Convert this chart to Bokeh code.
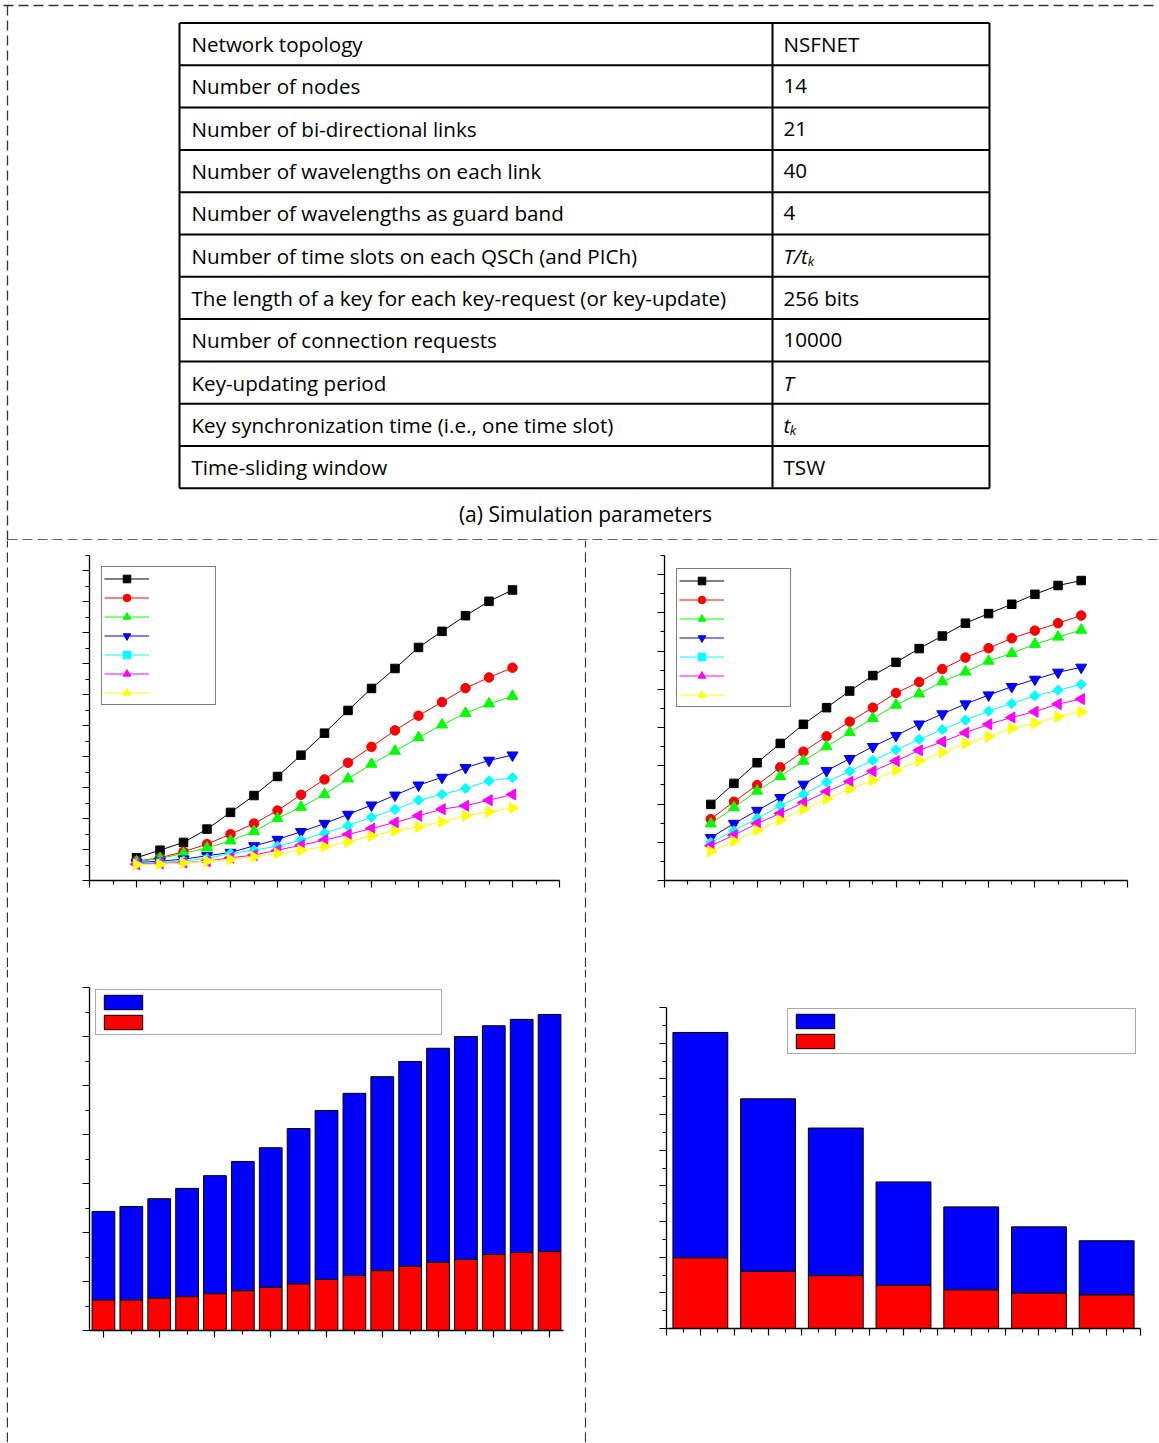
import numpy as np
from bokeh.plotting import figure
from bokeh.layouts import column, row
from bokeh.models import Range1d, FixedTicker, Legend, LegendItem
from bokeh.core.properties import value
from bokeh.embed import file_html
from bokeh.resources import INLINE

# ---------------- data ----------------
param_names = [
    "Network topology",
    "Number of nodes",
    "Number of bi-directional links",
    "Number of wavelengths on each link",
    "Number of wavelengths as guard band",
    "Number of time slots on each QSCh (and PICh)",
    "The length of a key for each key-request (or key-update)",
    "Number of connection requests",
    "Key-updating period",
    "Key synchronization time (i.e., one time slot)",
    "Time-sliding window",
]
param_values = ["NSFNET", "14", "21", "40", "4", "T/t", "256 bits", "10000", "T", "t", "TSW"]
param_value_sub = ["", "", "", "", "", "k", "", "", "", "k", ""]
param_value_italic = [False, False, False, False, False, True, False, False, True, True, False]
table_caption = "(a) Simulation parameters"

# line charts (17 points each)
line_x = [2, 3, 4, 5, 6, 7, 8, 9, 10, 11, 12, 13, 14, 15, 16, 17, 18]

b_black = [1.47, 1.96, 2.46, 3.32, 4.40, 5.49, 6.72, 8.10, 9.52, 10.99, 12.41, 13.70, 15.06, 16.10, 17.11, 18.04, 18.77]
b_red = [1.25, 1.47, 1.86, 2.35, 2.99, 3.68, 4.52, 5.54, 6.53, 7.61, 8.64, 9.70, 10.65, 11.53, 12.43, 13.12, 13.75]
b_green = [1.21, 1.42, 1.75, 2.11, 2.57, 3.17, 4.01, 4.74, 5.56, 6.57, 7.52, 8.36, 9.24, 10.06, 10.81, 11.42, 11.91]
b_blue = [1.16, 1.25, 1.38, 1.60, 1.81, 2.24, 2.65, 3.15, 3.68, 4.27, 4.87, 5.51, 6.16, 6.66, 7.29, 7.76, 8.10]
b_cyan = [1.10, 1.16, 1.27, 1.42, 1.75, 1.96, 2.22, 2.61, 3.06, 3.54, 4.09, 4.59, 5.19, 5.56, 5.95, 6.44, 6.64]
b_magenta = [1.05, 1.10, 1.16, 1.25, 1.47, 1.64, 1.96, 2.28, 2.61, 2.97, 3.36, 3.75, 4.18, 4.61, 4.83, 5.19, 5.56]
b_yellow = [1.03, 1.05, 1.14, 1.25, 1.36, 1.53, 1.75, 1.96, 2.18, 2.50, 2.89, 3.21, 3.47, 3.79, 4.18, 4.44, 4.70]

c_black = [3.98, 5.08, 6.16, 7.17, 8.17, 9.04, 9.91, 10.72, 11.41, 12.13, 12.79, 13.46, 13.96, 14.45, 14.97, 15.43, 15.69]
c_red = [3.21, 4.12, 4.99, 5.92, 6.74, 7.54, 8.31, 9.04, 9.81, 10.38, 11.06, 11.66, 12.15, 12.67, 13.07, 13.46, 13.86]
c_green = [2.97, 3.82, 4.68, 5.45, 6.25, 7.00, 7.75, 8.48, 9.18, 9.77, 10.40, 10.91, 11.48, 11.88, 12.36, 12.74, 13.10]
c_blue = [2.24, 2.98, 3.66, 4.33, 5.03, 5.74, 6.37, 7.00, 7.58, 8.18, 8.71, 9.23, 9.70, 10.14, 10.52, 10.89, 11.15]
c_cyan = [1.99, 2.60, 3.25, 3.91, 4.50, 5.15, 5.72, 6.28, 6.84, 7.38, 7.89, 8.39, 8.86, 9.25, 9.67, 9.95, 10.26]
c_magenta = [1.82, 2.37, 2.98, 3.51, 4.07, 4.64, 5.17, 5.72, 6.25, 6.81, 7.26, 7.73, 8.17, 8.53, 8.83, 9.23, 9.49]
c_yellow = [1.53, 2.06, 2.63, 3.16, 3.73, 4.26, 4.78, 5.25, 5.77, 6.25, 6.70, 7.17, 7.52, 7.96, 8.22, 8.57, 8.83]

# bar chart (d): 17 stacked bars
d_x = [1, 2, 3, 4, 5, 6, 7, 8, 9, 10, 11, 12, 13, 14, 15, 16, 17]
d_total = [2.43, 2.53, 2.69, 2.90, 3.16, 3.45, 3.73, 4.12, 4.49, 4.84, 5.18, 5.49, 5.76, 6.00, 6.22, 6.35, 6.45]
d_red = [0.62, 0.62, 0.66, 0.69, 0.75, 0.81, 0.88, 0.95, 1.04, 1.12, 1.22, 1.31, 1.39, 1.45, 1.55, 1.59, 1.61]

# bar chart (e): 7 stacked bars
e_x = [1, 2, 3, 4, 5, 6, 7]
e_total = [8.30, 6.44, 5.62, 4.11, 3.41, 2.85, 2.46]
e_red = [1.98, 1.60, 1.48, 1.21, 1.08, 0.99, 0.94]

series_colors = ["#000000", "#FF0000", "#00FF00", "#0000FF", "#00FFFF", "#FF00FF", "#FFFF00"]
series_markers = [("square", 0.0, 8.5), ("circle", 0.0, 9.5), ("triangle", 0.0, 11),
                  ("inverted_triangle", 0.0, 11), ("square", np.pi / 4, 7.2),
                  ("triangle", np.pi / 2, 11), ("triangle", -np.pi / 2, 11)]

DASH = "10 5"
DASH_COLOR = "#333333"
FONT = "Open Sans"
FS = "20.6px"


def blank(width, height, xr, yr):
    p = figure(width=width, height=height, x_range=xr, y_range=yr,
               min_border=0, toolbar_location=None, output_backend="svg",
               x_axis_location=None, y_axis_location=None)
    p.frame_align = False
    p.outline_line_color = None
    p.grid.visible = False
    p.background_fill_color = "white"
    p.border_fill_color = "white"
    return p


# ---------------- table ----------------
W, H_TOP = 1158, 540
pt = blank(W, H_TOP, Range1d(0, W), Range1d(H_TOP, 0))
t_left, t_mid, t_right, t_top = 179, 772, 989, 22.5
row_h = 42.3
n = len(param_names)
ys = [t_top + i * row_h for i in range(n + 1)]
pt.segment(x0=[t_left] * (n + 1), y0=ys, x1=[t_right] * (n + 1), y1=ys, line_color="black", line_width=2)
pt.segment(x0=[t_left, t_mid, t_right], y0=[ys[0]] * 3, x1=[t_left, t_mid, t_right], y1=[ys[-1]] * 3,
           line_color="black", line_width=2)
centers = [t_top + (i + 0.5) * row_h for i in range(n)]
pt.text(x=[191] * n, y=centers, text=param_names, text_font=value(FONT), text_font_size=FS,
        text_baseline="middle", text_align="left", text_color="black")
norm_idx = [i for i in range(n) if not param_value_italic[i]]
ital_idx = [i for i in range(n) if param_value_italic[i]]
pt.text(x=[783] * len(norm_idx), y=[centers[i] for i in norm_idx], text=[param_values[i] for i in norm_idx],
        text_font=value(FONT), text_font_size=FS, text_baseline="middle", text_align="left", text_color="black")
pt.text(x=[783] * len(ital_idx), y=[centers[i] for i in ital_idx], text=[param_values[i] for i in ital_idx],
        text_font=value(FONT), text_font_size=FS, text_font_style="italic",
        text_baseline="middle", text_align="left", text_color="black")
adv = {"T": 11.0, "/": 7.0, "t": 6.3}
sub_idx = [i for i in range(n) if param_value_sub[i]]
pt.text(x=[783 + sum(adv.get(c, 10) for c in param_values[i]) for i in sub_idx],
        y=[centers[i] + 5 for i in sub_idx], text=[param_value_sub[i] for i in sub_idx],
        text_font=value(FONT), text_font_size="13px", text_font_style="italic",
        text_baseline="middle", text_align="left", text_color="black")
pt.text(x=[585], y=[513], text=[table_caption], text_font=value(FONT), text_font_size="21px",
        text_baseline="middle", text_align="center", text_color="black")
# dashed frame lines of the page
pt.segment(x0=[3, 7, 7], y0=[5, 5, 539.5], x1=[W, 7, W], y1=[5, H_TOP, 539.5],
           line_color=DASH_COLOR, line_width=1.3, line_dash=DASH)


# ---------------- helpers ----------------
def style_axes(p, xt, xm, yt, ym):
    p.frame_align = False
    p.xgrid.visible = False
    p.ygrid.visible = False
    p.outline_line_color = None
    p.xaxis.ticker = FixedTicker(ticks=xt, minor_ticks=xm)
    p.yaxis.ticker = FixedTicker(ticks=yt, minor_ticks=ym)
    for ax in (p.xaxis[0], p.yaxis[0]):
        ax.axis_line_color = "black"
        ax.axis_line_width = 1.3
        ax.major_tick_line_color = "black"
        ax.minor_tick_line_color = "black"
        ax.major_tick_line_width = 1.2
        ax.minor_tick_line_width = 1.2
        ax.major_tick_in = 0
        ax.major_tick_out = 7
        ax.minor_tick_in = 0
        ax.minor_tick_out = 4
        ax.major_label_text_color = None


def line_chart(width, height, borders, y_max, ys_list, leg_loc):
    bl, br, bt, bb = borders
    p = figure(width=width, height=height, x_range=Range1d(0, 20), y_range=Range1d(0, y_max),
               min_border_left=bl, min_border_right=br, min_border_top=bt, min_border_bottom=bb,
               toolbar_location=None, output_backend="svg")
    style_axes(p, list(range(0, 21, 2)), list(range(1, 20, 2)),
               list(range(0, y_max + 1, 2)), list(range(1, y_max + 1, 2)))
    items = []
    for yv, col, (mk, ang, sz) in zip(ys_list, series_colors, series_markers):
        lr = p.line(line_x, yv, line_color=col, line_width=1)
        sr = p.scatter(line_x, yv, marker=mk, angle=ang, size=sz, fill_color=col, line_color=col)
        items.append(LegendItem(label=value(""), renderers=[lr, sr]))
    leg = Legend(items=items, location=leg_loc, glyph_width=45, glyph_height=19, label_height=19,
                 spacing=0, padding=2, label_standoff=0, label_width=64, margin=0,
                 border_line_color="black", border_line_width=1, background_fill_alpha=1)
    p.add_layout(leg)
    return p


def bar_chart(width, height, borders, xr, yr, y_top, xt, xm, xs, total, red, bw, leg_loc, label_w):
    bl, br, bt, bb = borders
    p = figure(width=width, height=height, x_range=Range1d(*xr), y_range=Range1d(*yr),
               min_border_left=bl, min_border_right=br, min_border_top=bt, min_border_bottom=bb,
               toolbar_location=None, output_backend="svg")
    style_axes(p, xt, xm, [i for i in range(0, y_top + 1)], [i + 0.5 for i in range(0, y_top)])
    p.yaxis.bounds = (0, y_top)
    rb = p.vbar(x=xs, top=total, bottom=red, width=bw, fill_color="#0000FF", line_color="black", line_width=1)
    rr = p.vbar(x=xs, top=red, bottom=0, width=bw, fill_color="#FF0000", line_color="black", line_width=1)
    leg = Legend(items=[LegendItem(label=value(""), renderers=[rb]), LegendItem(label=value(""), renderers=[rr])],
                 location=leg_loc, glyph_width=48, glyph_height=18, label_height=18, spacing=2, padding=3,
                 label_standoff=0, label_width=label_w, margin=0,
                 border_line_color="#555555", border_line_width=1, background_fill_alpha=1)
    p.add_layout(leg)
    return p


def vsep(width, height, xpos):
    p = blank(width, height, Range1d(0, width), Range1d(0, height))
    p.segment(x0=[xpos], y0=[0], x1=[xpos], y1=[height], line_color=DASH_COLOR, line_width=1.3, line_dash=DASH)
    return p


def hsep(width, height, ypos, x_start):
    p = blank(width, height, Range1d(0, width), Range1d(0, height))
    p.segment(x0=[x_start], y0=[ypos], x1=[width], y1=[ypos], line_color=DASH_COLOR, line_width=1.3, line_dash=DASH)
    return p


# ---------------- charts ----------------
ROW2_H, ROW3_H = 427, 473
LW, RW = 576, W - 586

f1 = line_chart(LW, ROW2_H, (81, 25, 15, 87), 21,
                [b_black, b_red, b_green, b_blue, b_cyan, b_magenta, b_yellow], (12, 175))
f2 = line_chart(RW, ROW2_H, (78, RW - 78 - 463, 15, 87), 17,
                [c_black, c_red, c_green, c_blue, c_cyan, c_magenta, c_yellow], (12, 173))

f3 = bar_chart(LW, ROW3_H, (81, 21, 18, ROW3_H - 18 - 343), (0.5, 17.5), (0, 7), 7,
               list(range(1, 18, 2)), list(range(2, 17, 2)), d_x, d_total, d_red, 0.815, (6, 295), 291)
f4 = bar_chart(RW, ROW3_H, (80, RW - 80 - 474, 38, ROW3_H - 38 - 321), (0.5, 7.5), (0, 9), 9,
               [0.5 + 0.5 * i for i in range(15)], [0.75 + 0.5 * i for i in range(14)],
               e_x, e_total, e_red, 0.81, (121, 274), 293)

row2 = row(vsep(8, ROW2_H, 7), f1, vsep(2, ROW2_H, 1), f2, spacing=0)
sepH = hsep(W, 2, 1, 7)
row3 = row(vsep(8, ROW3_H, 7), f3, vsep(2, ROW3_H, 1), f4, spacing=0)

page = column(pt, row2, sepH, row3, spacing=0)

open("out.html", "w").write(file_html(page, INLINE))
